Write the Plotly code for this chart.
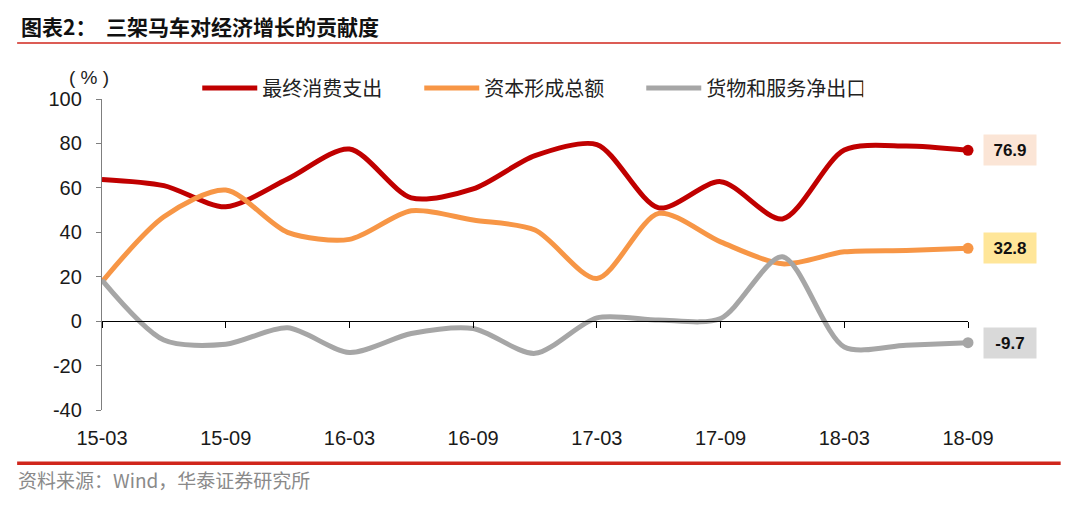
import plotly.graph_objects as go

quarters = ["15-03", "15-06", "15-09", "15-12", "16-03", "16-06", "16-09", "16-12",
            "17-03", "17-06", "17-09", "17-12", "18-03", "18-06", "18-09"]
consumption = [63.8, 61.0, 51.5, 64.0, 77.5, 55.5, 59.5, 74.5,
               79.5, 51.0, 62.8, 46.0, 77.0, 78.8, 76.9]
capital = [17.7, 47.0, 59.0, 40.0, 36.8, 49.7, 45.5, 41.0,
           19.2, 48.5, 35.7, 25.8, 31.2, 31.8, 32.8]
net_export = [18.5, -8.5, -10.4, -3.0, -14.1, -5.6, -3.3, -14.5,
              1.5, 0.5, 1.2, 29.0, -11.6, -10.8, -9.7]

names = ["最终消费支出", "资本形成总额", "货物和服务净出口"]
colors = ["#C00000", "#F79646", "#A6A6A6"]
box_colors = ["#FBE5D6", "#FFE699", "#D9D9D9"]
series = [consumption, capital, net_export]
tick_labels = quarters[::2]
y_ticks = [-40, -20, 0, 20, 40, 60, 80, 100]

NUM_FONT = "Liberation Sans, Arial, sans-serif"
CJK_FONT = "Noto Sans CJK SC, sans-serif"

fig = go.Figure()

# axis drawn across y=0 with the tick marks
fig.add_trace(go.Scatter(x=quarters, y=[None] * len(quarters), xaxis="x2",
                         showlegend=False, hoverinfo="skip"))

for name, color, vals in zip(names, colors, series):
    fig.add_trace(go.Scatter(
        x=quarters, y=vals, name=name, mode="lines",
        line=dict(color=color, width=5, shape="spline", smoothing=0.8),
        cliponaxis=False))
    fig.add_trace(go.Scatter(
        x=[quarters[-1]], y=[vals[-1]], mode="markers",
        marker=dict(color=color, size=11), showlegend=False,
        cliponaxis=False, hoverinfo="skip"))

annotations = []
for color, box, vals in zip(colors, box_colors, series):
    annotations.append(dict(
        x=quarters[-1], y=vals[-1], xref="x", yref="y", xshift=42,
        text="<b>%.1f</b>" % vals[-1], showarrow=False,
        bgcolor=box, width=44, height=22, borderpad=4,
        font=dict(family=NUM_FONT, size=17, color="#111111")))

annotations += [
    dict(x=-0.096, y=1.235, xref="paper", yref="paper", xanchor="left", yanchor="middle",
         text="<b>图表2：  三架马车对经济增长的贡献度</b>", showarrow=False,
         font=dict(family=CJK_FONT, size=21, color="#111111")),
    dict(x=-0.015, y=1.07, xref="paper", yref="paper", xanchor="center", yanchor="middle",
         text="( % )", showarrow=False,
         font=dict(family=NUM_FONT, size=19, color="#222222")),
    dict(x=-0.099, y=-0.222, xref="paper", yref="paper", xanchor="left", yanchor="middle",
         text="资料来源：Wind，华泰证券研究所", showarrow=False,
         font=dict(family=CJK_FONT, size=19, color="#8a8a8a")),
]

shapes = [
    dict(type="line", xref="paper", yref="paper", x0=-0.098, x1=1.107, y0=1.18, y1=1.18,
         line=dict(color="#D0261C", width=1.6)),
    dict(type="line", xref="paper", yref="paper", x0=-0.098, x1=1.107, y0=-0.171, y1=-0.171,
         line=dict(color="#D0261C", width=3.5)),
]

fig.update_layout(
    width=1080, height=515,
    margin=dict(l=94, r=120, t=91, b=113),
    paper_bgcolor="white", plot_bgcolor="white",
    font=dict(family=NUM_FONT, size=20, color="#1a1a1a"),
    xaxis=dict(type="category", categoryorder="array", categoryarray=quarters,
               range=[0, len(quarters) - 1], showline=False, showgrid=False,
               zeroline=False, ticks="", tickvals=tick_labels, ticktext=tick_labels,
               ticklabelstandoff=14, tickfont=dict(size=20)),
    xaxis2=dict(type="category", categoryorder="array", categoryarray=quarters,
                range=[0, len(quarters) - 1], overlaying="x", anchor="free",
                position=40 / 140, showline=True, linecolor="#000000", linewidth=1,
                ticks="outside", ticklen=6, tickcolor="#000000", tickwidth=1,
                tickvals=tick_labels, showticklabels=False, showgrid=False),
    yaxis=dict(range=[-40, 100], tickvals=y_ticks, ticktext=[str(v) for v in y_ticks],
               showline=True, linecolor="#7f7f7f",
               linewidth=1.3, ticks="outside", ticklen=5, tickcolor="#7f7f7f",
               showgrid=False, zeroline=False, ticklabelstandoff=10,
               tickfont=dict(size=20)),
    legend=dict(orientation="h", x=0.110, y=1.035, xanchor="left", yanchor="middle",
                itemwidth=55, entrywidth=152, entrywidthmode="pixels",
                font=dict(family=CJK_FONT, size=20, color="#222222"),
                bgcolor="rgba(0,0,0,0)"),
    annotations=annotations,
    shapes=shapes,
    showlegend=True,
)

fig.write_html("out.html")
